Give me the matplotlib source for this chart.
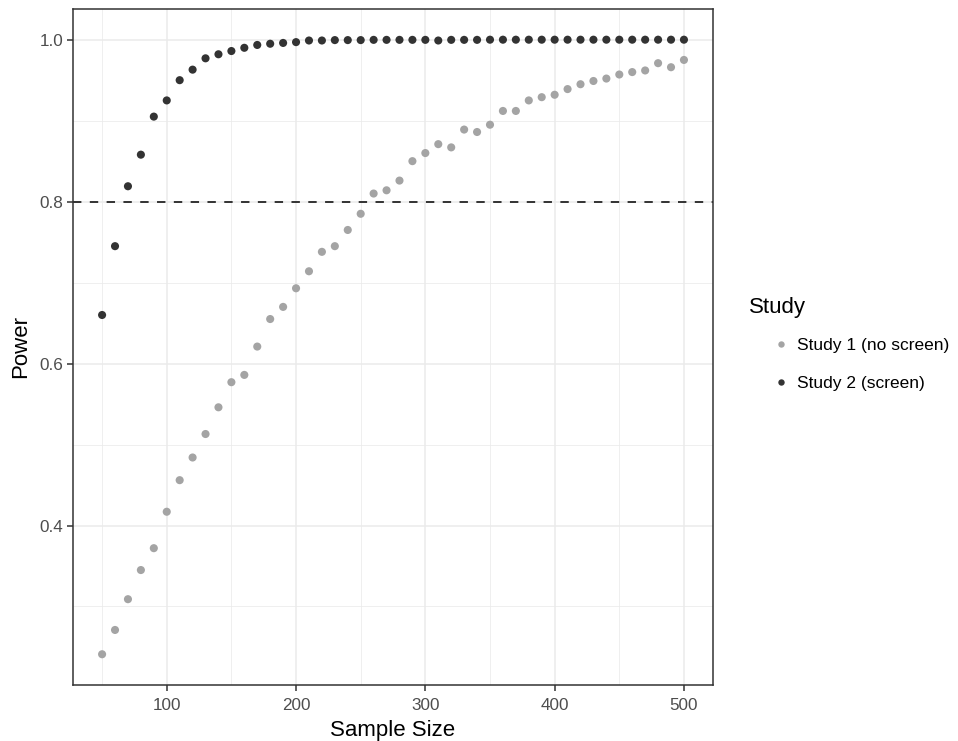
import matplotlib
matplotlib.use("Agg")
import matplotlib.pyplot as plt
from matplotlib.ticker import MultipleLocator
from matplotlib.lines import Line2D

plt.rcParams["font.family"] = ["Liberation Sans", "DejaVu Sans"]

sample_size = list(range(50, 501, 10))

study1_power = [
    0.241, 0.271, 0.309, 0.345, 0.372, 0.417, 0.456, 0.484, 0.513, 0.546,
    0.577, 0.586, 0.621, 0.655, 0.670, 0.693, 0.714, 0.738, 0.745, 0.765,
    0.785, 0.810, 0.814, 0.826, 0.850, 0.860, 0.871, 0.867, 0.889, 0.886,
    0.895, 0.912, 0.912, 0.925, 0.929, 0.932, 0.939, 0.945, 0.949, 0.952,
    0.957, 0.960, 0.962, 0.971, 0.966, 0.975,
]

study2_power = [
    0.660, 0.745, 0.819, 0.858, 0.905, 0.925, 0.950, 0.963, 0.977, 0.982,
    0.986, 0.990, 0.9935, 0.995, 0.996, 0.997, 0.999, 0.999, 0.9995, 0.9995,
    0.9995, 0.9998, 0.9998, 0.9998, 0.9998, 0.9998, 0.999, 0.9998, 0.9998, 0.9998,
    1.0, 1.0, 1.0, 1.0, 1.0, 1.0, 1.0, 1.0, 1.0, 1.0,
    1.0, 1.0, 1.0, 1.0, 1.0, 1.0,
]

labels = ["Study 1 (no screen)", "Study 2 (screen)"]
colors = ["#A4A4A4", "#333333"]
power_target = 0.8

fig = plt.figure(figsize=(9.58, 7.41), dpi=100)
ax = fig.add_axes([0.0762, 0.0756, 0.6681, 0.9123])

# grid like theme_bw
ax.xaxis.set_major_locator(MultipleLocator(100))
ax.xaxis.set_minor_locator(MultipleLocator(50))
ax.yaxis.set_major_locator(MultipleLocator(0.2))
ax.yaxis.set_minor_locator(MultipleLocator(0.1))
ax.grid(which="major", color="#EBEBEB", linewidth=1.1, zorder=0)
ax.grid(which="minor", color="#EBEBEB", linewidth=0.55, zorder=0)
ax.set_axisbelow(True)

ax.axhline(power_target, color="black", linewidth=1.1,
           linestyle=(0, (5.5, 5.5)), zorder=1)

for vals, lab, col in zip([study1_power, study2_power], labels, colors):
    ax.scatter(sample_size, vals, s=34, color=col, edgecolors="none",
               label=lab, zorder=2)

xr = max(sample_size) - min(sample_size)
ax.set_xlim(min(sample_size) - 0.05 * xr, max(sample_size) + 0.05 * xr)
ymin = min(study1_power)
ymax = 1.0
yr = ymax - ymin
ax.set_ylim(ymin - 0.05 * yr, ymax + 0.05 * yr)

ax.set_yticks([0.4, 0.6, 0.8, 1.0])
ax.set_yticklabels(["0.4", "0.6", "0.8", "1.0"])
ax.set_xticks([100, 200, 300, 400, 500])

for sp in ax.spines.values():
    sp.set_color("#333333")
    sp.set_linewidth(1.1)

ax.tick_params(which="major", length=4, width=1.1, color="#333333",
               labelcolor="#4D4D4D", labelsize=12.3, pad=3)
ax.tick_params(axis="x", which="major", pad=5.5)
ax.tick_params(which="minor", length=0)

ax.set_xlabel("Sample Size", fontsize=16, labelpad=5)
ax.set_ylabel("Power", fontsize=16, labelpad=6)

# legend: keys and labels, with the title placed as its own text
handles = [Line2D([], [], marker="o", linestyle="none", markersize=4.6,
                  markerfacecolor=c, markeredgecolor="none") for c in colors]
leg = fig.legend(handles, labels, loc="center left",
                 bbox_to_anchor=(0.7993, 0.5081), frameon=False, fontsize=12.5,
                 handlelength=1.0, handletextpad=0.38,
                 labelspacing=1.3, borderaxespad=0)
fig.text(749 / 958, 1 - 307 / 741, "Study", fontsize=16, ha="left", va="center")

fig.savefig("out.png", dpi=100)
